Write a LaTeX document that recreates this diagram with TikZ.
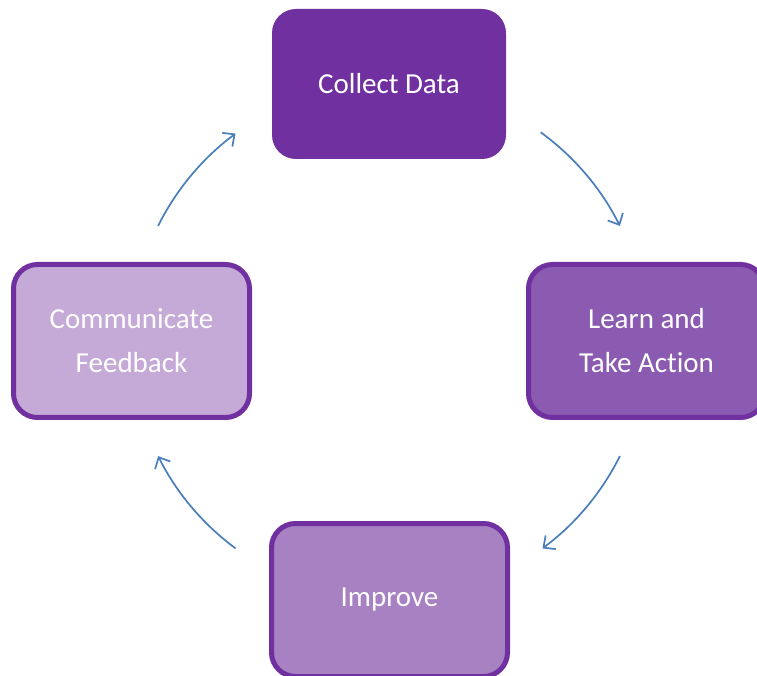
\documentclass[tikz,border=0pt]{standalone}
\usepackage{fontspec}
\setmainfont{Carlito}[Ligatures={NoCommon}]
\usetikzlibrary{arrows.meta}
\definecolor{pdark}{HTML}{7030A0}
\definecolor{pmid}{HTML}{8B5AB1}
\definecolor{plight}{HTML}{A881C3}
\definecolor{ppale}{HTML}{C5A9D7}
\definecolor{arrblue}{HTML}{4A7EBB}
\tikzset{
  stepbox/.style={rounded corners=24pt, draw=pdark, line width=5pt, minimum width=236pt, minimum height=153pt, text=white, align=center, font=\fontsize{29}{44}\selectfont, inner sep=0pt},
  arr/.style={draw=arrblue, line width=1.7pt, -{Straight Barb[length=9pt,width=17pt,line width=1.7pt]}}
}
\begin{document}
\begin{tikzpicture}[x=1pt,y=1pt]
\useasboundingbox (0,0) rectangle (757,675);
\clip (0,0) rectangle (757,675);
\node[stepbox, fill=pdark, draw=none, minimum width=234pt, minimum height=150pt] (cd) at (389,591) {Collect Data};
\node[stepbox, fill=pmid] (lta) at (646.5,334) {Learn and\\Take Action};
\node[stepbox, fill=ppale] (cf) at (131.5,334) {Communicate\\Feedback};
\node[stepbox, fill=plight] (imp) at (389.5,75) {Improve};
\coordinate (c) at (389,334);
\draw[arr] ([shift={(54:258)}]c) arc[start angle=54, end angle=26.5, radius=258];
\draw[arr] ([shift={(-26.5:258)}]c) arc[start angle=-26.5, end angle=-53.5, radius=258];
\draw[arr] ([shift={(-126.5:258)}]c) arc[start angle=-126.5, end angle=-153.5, radius=258];
\draw[arr] ([shift={(153.5:258)}]c) arc[start angle=153.5, end angle=126.5, radius=258];
\end{tikzpicture}
\end{document}
